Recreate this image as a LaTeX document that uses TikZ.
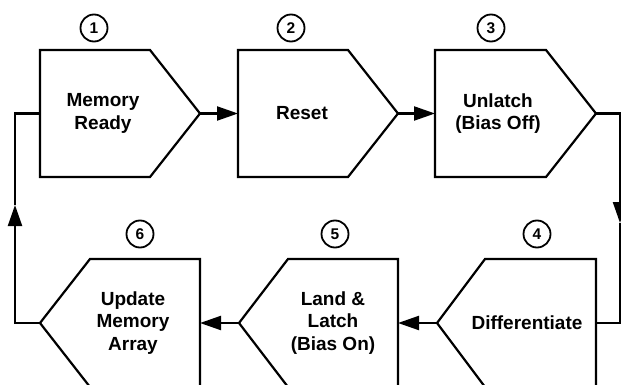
\documentclass[tikz,border=0pt]{standalone}
\usepackage{fontspec}
\setmainfont{Liberation Sans}
\usepackage{tikz}
\usetikzlibrary{arrows.meta}

\begin{document}
\begin{tikzpicture}[x=1pt,y=-1pt,
        stage/.style={draw, line width=2.2pt},
        steptext/.style={align=center, font=\fontsize{19}{22.5}\selectfont\bfseries},
        num/.style={draw, circle, line width=1.8pt, minimum size=27pt, inner sep=0pt, font=\fontsize{15.5}{17}\selectfont\bfseries},
        flow/.style={line width=2.2pt},
        flowarrow/.style={-{Triangle[length=21pt,width=14pt]}}]
                \useasboundingbox (0,0) rectangle (621,385);
                % top row
                \draw[stage](40,50)--(150,50)--(200,113.5)--(150,177)--(40,177)--cycle;
                \draw[stage](238,50)--(348,50)--(398,113.5)--(348,177)--(238,177)--cycle;
                \draw[stage](435,50)--(546,50)--(596,113.5)--(546,177)--(435,177)--cycle;
                % bottom row
                \draw[stage](596,259)--(485,259)--(437,323)--(485,387)--(596,387)--cycle;
                \draw[stage](398,259)--(288,259)--(239,323)--(288,387)--(398,387)--cycle;
                \draw[stage](200,259)--(90,259)--(40,323)--(90,387)--(200,387)--cycle;
                \node[steptext] (ready) at (103,113.5) {Memory\\Ready};
                \node[steptext] (reset) at (302,113.5) {Reset};
                \node[steptext] (unlatch) at (498,113.5) {Unlatch\\(Bias Off)};
                \node[steptext] (diff) at (527,323) {Differentiate};
                \node[steptext] (land) at (333,323) {Land \&\\Latch\\(Bias On)};
                \node[steptext] (update) at (133,323) {Update\\Memory\\Array};
                \node[num] (n1) at (94,28) {1};
                \node[num] (n2) at (291,28) {2};
                \node[num] (n3) at (491,28) {3};
                \node[num] (n4) at (537,234) {4};
                \node[num] (n5) at (335,234) {5};
                \node[num] (n6) at (140,234) {6};
                % ports
                \coordinate (out1) at (200,113.5);
                \coordinate (in2) at (238,113.5);
                \coordinate (out2) at (398,113.5);
                \coordinate (in3) at (435,113.5);
                \coordinate (out3) at (596,113.5);
                \coordinate (rtop) at (620,113.5);
                \coordinate (rarr) at (620,223);
                \coordinate (rbot) at (620,323);
                \coordinate (in4) at (596,323);
                \coordinate (out4) at (437,323);
                \coordinate (in5) at (398,323);
                \coordinate (out5) at (239,323);
                \coordinate (in6) at (200,323);
                \coordinate (out6) at (40,323);
                \coordinate (lbot) at (15,323);
                \coordinate (larr) at (15,205);
                \coordinate (ltop) at (15,113.5);
                \coordinate (in1) at (40,113.5);
                % connectors
                \draw[flow,flowarrow](out1)--(in2);
                \draw[flow,flowarrow](out2)--(in3);
                \draw[flow,flowarrow](out3)--(rtop)--(rarr);
                \draw[flow](rarr)--(rbot)--(in4);
                \draw[flow,flowarrow](out4)--(in5);
                \draw[flow,flowarrow](out5)--(in6);
                \draw[flow,flowarrow](out6)--(lbot)--(larr);
                \draw[flow](larr)--(ltop)--(in1);
            \end{tikzpicture}
\end{document}
